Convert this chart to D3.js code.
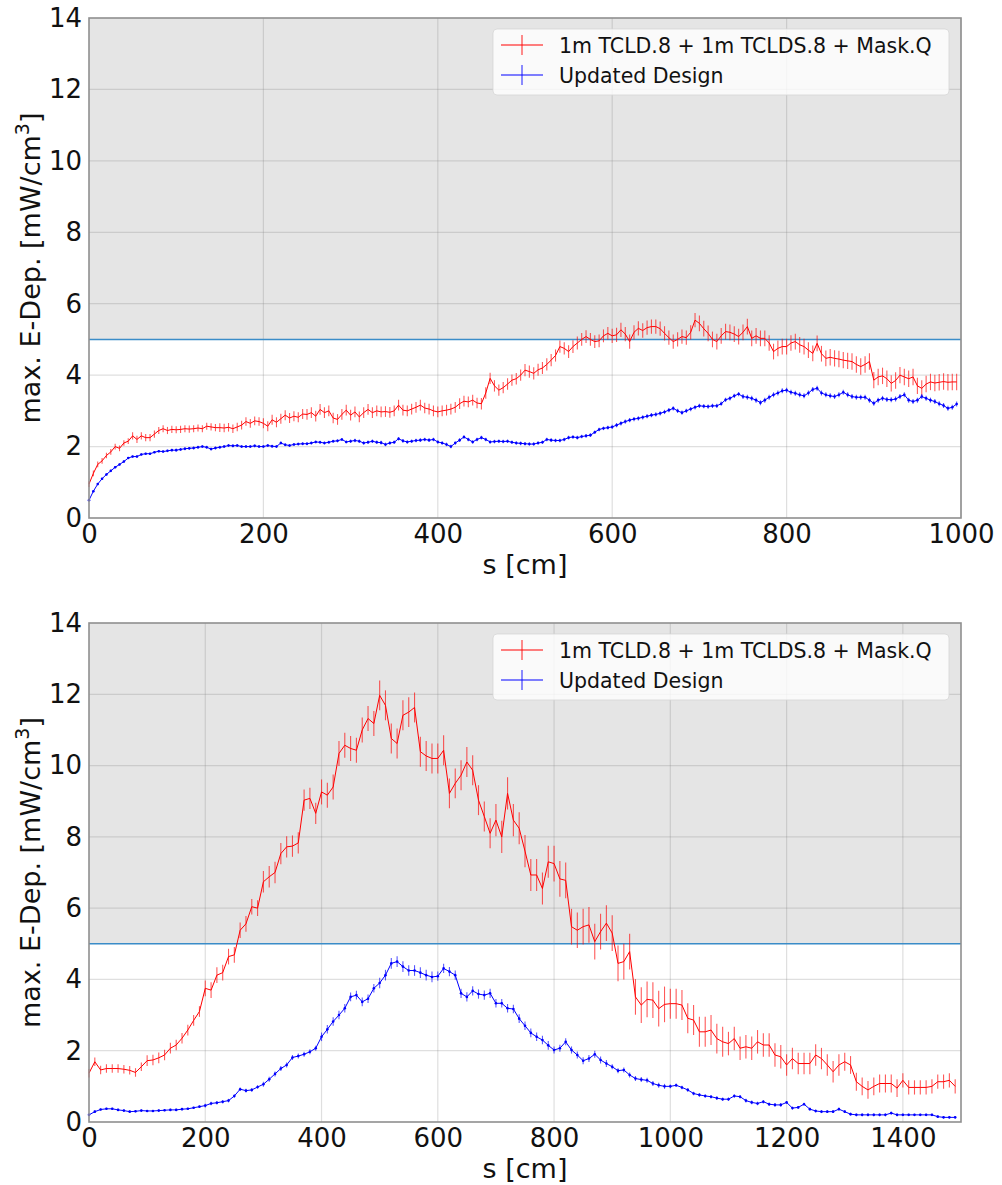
<!DOCTYPE html>
<html>
<head>
<meta charset="utf-8">
<script src="https://cdn.jsdelivr.net/npm/d3@7"></script>
<style>
    body { margin: 0; background: #fff; }
    text { font-family: "DejaVu Sans", sans-serif; fill: #111; }
</style>
</head>
<body>
<svg id="chart" width="1002" height="1185"></svg>
<script>
// DATA
const seriesNames = ["1m TCLD.8 + 1m TCLDS.8 + Mask.Q", "Updated Design"];
const yTicks = [0, 2, 4, 6, 8, 10, 12, 14];
const topXTicks = [0, 200, 400, 600, 800, 1000];
const bottomXTicks = [0, 200, 400, 600, 800, 1000, 1200, 1400];
const limitValue = 5;

// upper panel: one point every 5 cm, 0..995
const topS = d3.range(0, 1000, 5);
const topRed = [
    0.95, 1.25, 1.5, 1.6, 1.75, 1.85, 2.0, 1.95, 2.1, 2.15,
    2.3, 2.2, 2.3, 2.25, 2.25, 2.35, 2.45, 2.5, 2.45, 2.48,
    2.47, 2.48, 2.5, 2.49, 2.5, 2.52, 2.5, 2.57, 2.55, 2.53,
    2.53, 2.52, 2.54, 2.5, 2.55, 2.6, 2.7, 2.65, 2.72, 2.7,
    2.65, 2.57, 2.75, 2.68, 2.78, 2.88, 2.8, 2.85, 2.82, 2.91,
    2.9, 2.95, 2.85, 3.04, 2.95, 3.0, 2.8, 2.76, 2.9, 3.02,
    2.88, 2.97, 2.83, 2.95, 3.04, 2.95, 3.0, 2.97, 2.98, 2.96,
    3.0, 3.16, 3.02, 3.0, 3.05, 3.1, 3.16, 3.08, 3.05, 3.0,
    2.97, 3.0, 3.02, 3.05, 3.1, 3.2, 3.27, 3.25, 3.3, 3.22,
    3.2, 3.5, 3.91, 3.7, 3.58, 3.65, 3.75, 3.86, 3.9, 4.0,
    4.14, 4.1, 4.05, 4.15, 4.2, 4.3, 4.42, 4.55, 4.8, 4.75,
    4.66, 4.8, 4.9, 5.0, 5.08, 5.0, 4.94, 4.96, 5.1, 5.17,
    5.1, 5.13, 5.27, 5.15, 4.94, 5.2, 5.31, 5.25, 5.33, 5.36,
    5.36, 5.3, 5.17, 5.05, 4.94, 5.0, 5.08, 5.05, 5.2, 5.54,
    5.45, 5.3, 5.17, 5.0, 4.94, 5.1, 5.22, 5.2, 5.15, 5.08,
    5.2, 5.36, 5.03, 5.1, 5.03, 5.03, 4.9, 4.66, 4.75, 4.8,
    4.8, 4.9, 4.94, 4.85, 4.8, 4.7, 4.61, 4.89, 4.6, 4.47,
    4.5, 4.47, 4.45, 4.42, 4.4, 4.38, 4.3, 4.24, 4.3, 4.38,
    3.86, 3.95, 3.98, 3.9, 3.77, 3.85, 4.0, 3.95, 3.9, 3.95,
    3.7, 3.63, 3.75, 3.81, 3.78, 3.8, 3.82, 3.8, 3.81, 3.81
];
const topBlue = [
    0.5, 0.75, 0.95, 1.1, 1.22, 1.32, 1.42, 1.5, 1.58, 1.68,
    1.72, 1.72, 1.78, 1.8, 1.8, 1.84, 1.87, 1.86, 1.88, 1.9,
    1.9, 1.92, 1.94, 1.95, 1.96, 1.98, 2.0, 1.98, 1.93, 1.96,
    1.98, 2.0, 2.03, 2.02, 2.03, 2.0, 2.0, 2.0, 2.02, 2.0,
    2.0, 2.03, 2.01, 2.0, 2.1, 2.05, 2.03, 2.06, 2.07, 2.08,
    2.08, 2.1, 2.13, 2.12, 2.1, 2.12, 2.15, 2.16, 2.2, 2.13,
    2.15, 2.17, 2.15, 2.1, 2.12, 2.15, 2.12, 2.11, 2.06, 2.1,
    2.12, 2.22, 2.16, 2.13, 2.15, 2.17, 2.18, 2.2, 2.18, 2.2,
    2.13, 2.1, 2.06, 2.0, 2.1, 2.18, 2.27, 2.2, 2.13, 2.2,
    2.25, 2.2, 2.13, 2.14, 2.15, 2.14, 2.15, 2.12, 2.1, 2.09,
    2.08, 2.07, 2.07, 2.1, 2.12, 2.2, 2.18, 2.17, 2.17, 2.2,
    2.25, 2.27, 2.25, 2.28, 2.3, 2.32, 2.4, 2.48, 2.51, 2.53,
    2.55, 2.6, 2.65, 2.7, 2.74, 2.77, 2.79, 2.82, 2.85, 2.88,
    2.9, 2.93, 2.97, 3.02, 3.07, 3.0, 2.95, 3.0, 3.05, 3.1,
    3.14, 3.13, 3.12, 3.14, 3.14, 3.2, 3.31, 3.35, 3.42, 3.47,
    3.4, 3.38, 3.35, 3.3, 3.23, 3.3, 3.38, 3.45, 3.5, 3.56,
    3.58, 3.52, 3.49, 3.45, 3.42, 3.5, 3.6, 3.63, 3.5, 3.45,
    3.42, 3.4, 3.45, 3.52, 3.45, 3.4, 3.38, 3.38, 3.38, 3.3,
    3.21, 3.3, 3.35, 3.32, 3.31, 3.33, 3.4, 3.45, 3.3, 3.26,
    3.3, 3.4, 3.35, 3.3, 3.26, 3.2, 3.15, 3.07, 3.1, 3.19
];
// error half-widths, one value per 50 cm stretch
const topRedErr = [0.08, 0.1, 0.1, 0.12, 0.14, 0.15, 0.15, 0.15, 0.15, 0.16,
                   0.17, 0.18, 0.2, 0.2, 0.22, 0.22, 0.22, 0.23, 0.23, 0.23];
const topBlueErr = [0.03, 0.03, 0.04, 0.04, 0.04, 0.04, 0.05, 0.05, 0.05, 0.05,
                    0.05, 0.05, 0.06, 0.06, 0.06, 0.07, 0.07, 0.07, 0.07, 0.07];

// lower panel: one point every 10 cm, 0..1490
const bottomS = d3.range(0, 1500, 10);
const bottomRed = [
    1.37, 1.69, 1.46, 1.5, 1.5, 1.5, 1.48, 1.45, 1.39, 1.55,
    1.72, 1.74, 1.8, 1.88, 2.07, 2.16, 2.35, 2.58, 2.85, 3.1,
    3.75, 3.7, 4.12, 4.19, 4.64, 4.69, 5.38, 5.56, 6.04, 6.0,
    6.74, 6.88, 7.0, 7.53, 7.72, 7.74, 7.83, 9.03, 9.08, 8.66,
    9.26, 9.17, 9.4, 10.34, 10.57, 10.48, 10.43, 11.0, 11.32, 11.18,
    11.97, 11.69, 10.76, 10.62, 11.41, 11.5, 11.63, 10.39, 10.27, 10.2,
    10.2, 10.43, 9.22, 9.5, 9.73, 10.1, 9.87, 9.03, 8.57, 8.1,
    8.47, 8.0, 9.22, 8.47, 8.24, 7.6, 6.93, 6.93, 6.55, 7.3,
    7.25, 6.82, 6.78, 5.48, 5.38, 5.48, 5.53, 5.06, 5.34, 5.58,
    5.3, 4.45, 4.5, 4.78, 3.51, 3.28, 3.44, 3.42, 3.18, 3.3,
    3.32, 3.32, 3.28, 2.91, 2.86, 2.53, 2.53, 2.58, 2.34, 2.25,
    2.2, 2.34, 2.07, 2.11, 2.07, 2.25, 2.16, 2.16, 1.88, 1.83,
    1.6, 1.78, 1.64, 1.64, 1.64, 1.88, 1.78, 1.6, 1.41, 1.6,
    1.69, 1.6, 1.13, 1.0, 0.9, 1.0, 1.08, 1.08, 1.08, 0.95,
    1.17, 0.97, 0.97, 0.97, 0.97, 1.0, 1.13, 1.13, 1.17, 1.0
];
const bottomBlue = [
    0.2, 0.29, 0.35, 0.37, 0.37, 0.34, 0.32, 0.29, 0.3, 0.32,
    0.31, 0.31, 0.32, 0.33, 0.34, 0.34, 0.36, 0.37, 0.4, 0.43,
    0.46, 0.52, 0.54, 0.57, 0.6, 0.73, 0.92, 0.88, 0.9, 0.98,
    1.06, 1.2, 1.35, 1.5, 1.6, 1.81, 1.85, 1.9, 1.97, 2.07,
    2.39, 2.6, 2.82, 3.0, 3.19, 3.51, 3.56, 3.37, 3.46, 3.75,
    3.9, 4.12, 4.45, 4.5, 4.36, 4.25, 4.25, 4.19, 4.12, 4.07,
    4.09, 4.31, 4.22, 4.12, 3.61, 3.51, 3.68, 3.59, 3.56, 3.61,
    3.33, 3.33, 3.19, 3.17, 2.9, 2.7, 2.5, 2.39, 2.3, 2.15,
    2.02, 2.07, 2.25, 2.02, 1.88, 1.72, 1.78, 1.9, 1.74, 1.64,
    1.55, 1.44, 1.46, 1.32, 1.22, 1.19, 1.17, 1.08, 1.03, 1.0,
    1.0, 1.03, 0.97, 0.9, 0.8, 0.76, 0.73, 0.71, 0.67, 0.64,
    0.64, 0.73, 0.71, 0.6, 0.55, 0.52, 0.57, 0.5, 0.48, 0.48,
    0.55, 0.39, 0.41, 0.5, 0.36, 0.31, 0.29, 0.29, 0.29, 0.36,
    0.29, 0.22, 0.2, 0.2, 0.2, 0.2, 0.2, 0.2, 0.25, 0.2,
    0.2, 0.2, 0.2, 0.2, 0.2, 0.2, 0.15, 0.13, 0.13, 0.13
];
// error half-widths, one value per 100 cm stretch
const bottomRedErr = [0.12, 0.15, 0.22, 0.3, 0.35, 0.42, 0.42, 0.45, 0.5, 0.5, 0.42, 0.33, 0.3, 0.25, 0.2];
const bottomBlueErr = [0.03, 0.03, 0.05, 0.07, 0.12, 0.15, 0.13, 0.12, 0.1, 0.07, 0.05, 0.05, 0.04, 0.04, 0.03];

// GRAPH CONSTANTS
const padLeft = 89;
const padRight = 961;
const colors = ["#ff0000", "#0000ff"];
const markerR = [0, 1.3]; // red curve shows no dots, blue shows small ones
const svg = d3.select("#chart");

const panels = [
    { top: 18, bottom: 518, xMax: 1000, xTicks: topXTicks, s: topS, block: 50,
      series: [[topRed, topRedErr], [topBlue, topBlueErr]] },
    { top: 623, bottom: 1122, xMax: 1500, xTicks: bottomXTicks, s: bottomS, block: 100,
      series: [[bottomRed, bottomRedErr], [bottomBlue, bottomBlueErr]] }
];

panels.forEach(p => drawPanel(p));

function drawPanel(p) {
    const g = svg.append("g");
    const x = d3.scaleLinear().domain([0, p.xMax]).range([padLeft, padRight]);
    const y = d3.scaleLinear().domain([0, 14]).range([p.bottom, p.top]);

    // shaded region above the limit
    g.append("rect")
        .attr("x", padLeft).attr("width", padRight - padLeft)
        .attr("y", y(14)).attr("height", y(limitValue) - y(14))
        .attr("fill", "#e5e5e5");

    // grid
    g.selectAll(".vgrid").data(p.xTicks.slice(1)).enter().append("line")
        .attr("x1", d => x(d)).attr("x2", d => x(d))
        .attr("y1", p.top).attr("y2", p.bottom)
        .attr("stroke", "#808080").attr("stroke-opacity", 0.25).attr("stroke-width", 1.2);
    g.selectAll(".hgrid").data(yTicks.slice(1, -1)).enter().append("line")
        .attr("x1", padLeft).attr("x2", padRight)
        .attr("y1", d => y(d)).attr("y2", d => y(d))
        .attr("stroke", "#808080").attr("stroke-opacity", 0.25).attr("stroke-width", 1.2);

    // limit line
    g.append("line")
        .attr("x1", padLeft).attr("x2", padRight)
        .attr("y1", y(limitValue)).attr("y2", y(limitValue))
        .attr("stroke", "#3a8cc8").attr("stroke-width", 1.5);

    // series with error bars
    p.series.forEach(([vals, errs], k) => {
        const pts = vals.map((v, i) => ({ s: p.s[i], v, e: errs[Math.floor(p.s[i] / p.block)] }));
        const sg = g.append("g");
        sg.selectAll("line").data(pts).enter().append("line")
            .attr("x1", d => x(d.s)).attr("x2", d => x(d.s))
            .attr("y1", d => y(d.v - d.e)).attr("y2", d => y(d.v + d.e))
            .attr("stroke", colors[k]).attr("stroke-opacity", 0.65).attr("stroke-width", 1.1);
        sg.append("path")
            .datum(pts)
            .attr("d", d3.line().x(d => x(d.s)).y(d => y(d.v)))
            .attr("fill", "none").attr("stroke", colors[k]).attr("stroke-width", 1);
        if (markerR[k] > 0) {
            sg.selectAll("circle").data(pts).enter().append("circle")
                .attr("cx", d => x(d.s)).attr("cy", d => y(d.v)).attr("r", markerR[k])
                .attr("fill", colors[k]);
        }
    });

    // spines
    g.append("rect")
        .attr("x", padLeft).attr("y", p.top)
        .attr("width", padRight - padLeft).attr("height", p.bottom - p.top)
        .attr("fill", "none").attr("stroke", "#8f8f8f").attr("stroke-width", 1.6);

    // AXES (labels only, no tick marks)
    const xAxis = d3.axisBottom(x).tickValues(p.xTicks).tickSize(0).tickPadding(7).tickFormat(d3.format("d"));
    const xg = g.append("g").attr("transform", `translate(0, ${p.bottom})`).call(xAxis);
    const yAxis = d3.axisLeft(y).tickValues(yTicks).tickSize(0).tickPadding(7);
    const yg = g.append("g").attr("transform", `translate(${padLeft}, 0)`).call(yAxis);
    [xg, yg].forEach(a => {
        a.select(".domain").remove();
        a.selectAll("text").attr("font-size", 26).attr("font-family", "DejaVu Sans").attr("fill", "#111");
    });

    // axis titles
    g.append("text")
        .attr("x", (padLeft + padRight) / 2).attr("y", p.bottom + 55.5)
        .attr("text-anchor", "middle").attr("font-size", 27)
        .text("s [cm]");
    const yt = g.append("text")
        .attr("transform", `translate(40, ${(p.top + p.bottom) / 2}) rotate(-90)`)
        .attr("text-anchor", "middle").attr("font-size", 27);
    yt.append("tspan").text("max. E-Dep. [mW/cm");
    yt.append("tspan").attr("font-size", 19).attr("dy", -11).text("3");
    yt.append("tspan").attr("dy", 11).text("]");

    // LEGEND
    const lg = g.append("g").attr("transform", `translate(493, ${p.top + 11})`);
    lg.append("rect")
        .attr("width", 456).attr("height", 66).attr("rx", 4)
        .attr("fill", "#fff").attr("fill-opacity", 0.8)
        .attr("stroke", "#d6d6d6").attr("stroke-opacity", 0.8);
    seriesNames.forEach((name, k) => {
        const cy = 16 + k * 30;
        lg.append("line").attr("x1", 8).attr("x2", 50).attr("y1", cy).attr("y2", cy)
            .attr("stroke", colors[k]).attr("stroke-width", 1.1);
        lg.append("line").attr("x1", 29).attr("x2", 29).attr("y1", cy - 10).attr("y2", cy + 10)
            .attr("stroke", colors[k]).attr("stroke-opacity", 0.75).attr("stroke-width", 1.2);
        lg.append("text").attr("x", 66).attr("y", cy + 7.5)
            .attr("font-size", 20.5).text(name);
    });
}
</script>
</body>
</html>
